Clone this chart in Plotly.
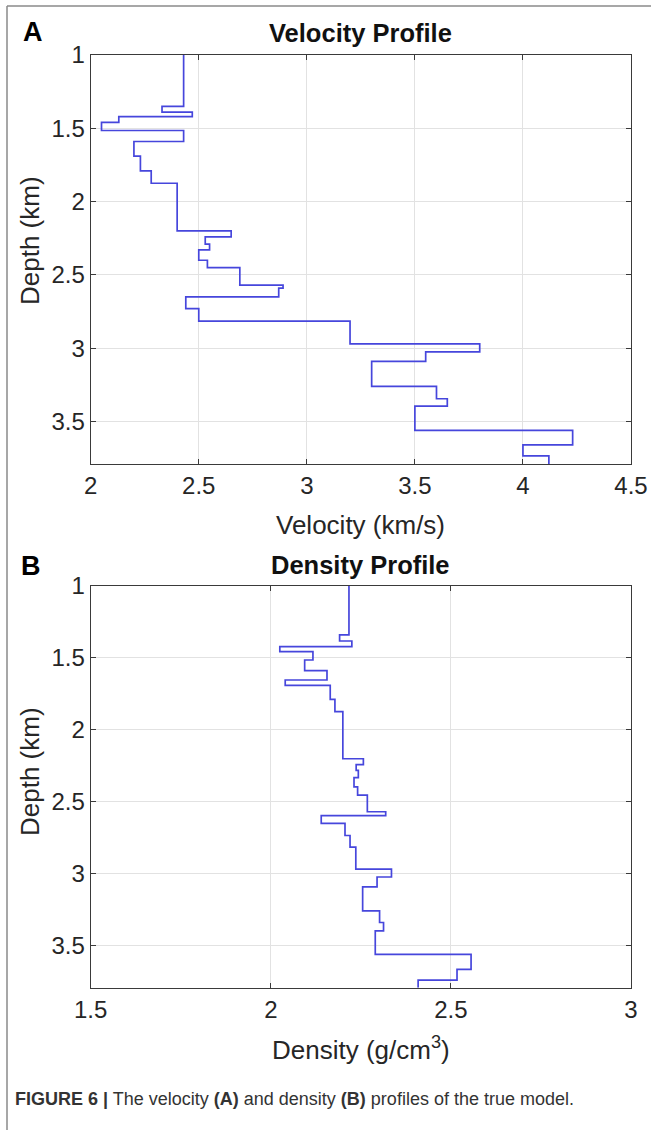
import plotly.graph_objects as go

W, H = 651, 1130

# ---------------- data ----------------
depth_max = 3.79

vel_tops = [1.0, 1.35, 1.39, 1.42, 1.46, 1.515, 1.59, 1.69, 1.79, 1.875,
            2.2, 2.24, 2.29, 2.33, 2.4, 2.45, 2.57, 2.59, 2.65, 2.73,
            2.815, 2.97, 3.025, 3.09, 3.26, 3.345, 3.395, 3.56, 3.66, 3.735]
vel_vals = [2.43, 2.33, 2.47, 2.13, 2.05, 2.43, 2.2, 2.23, 2.28, 2.4,
            2.65, 2.53, 2.55, 2.5, 2.54, 2.69, 2.89, 2.87, 2.44, 2.5,
            3.2, 3.8, 3.55, 3.3, 3.6, 3.65, 3.5, 4.23, 4.0, 4.12]

den_tops = [1.0, 1.34, 1.382, 1.421, 1.456, 1.514, 1.588, 1.653, 1.69, 1.787,
            1.873, 2.2, 2.241, 2.28, 2.331, 2.395, 2.453, 2.568, 2.595, 2.648,
            2.733, 2.814, 2.966, 3.021, 3.09, 3.257, 3.337, 3.395, 3.558, 3.663,
            3.737]
den_vals = [2.217, 2.191, 2.225, 2.025, 2.117, 2.094, 2.156, 2.040, 2.165, 2.178,
            2.2, 2.257, 2.237, 2.243, 2.231, 2.241, 2.268, 2.319, 2.140, 2.206,
            2.220, 2.236, 2.335, 2.295, 2.255, 2.302, 2.313, 2.290, 2.556, 2.517,
            2.409]

depth_ticks = [1, 1.5, 2, 2.5, 3, 3.5]
depth_ticktext = ["1", "1.5", "2", "2.5", "3", "3.5"]
vel_ticks = [2, 2.5, 3, 3.5, 4, 4.5]
vel_ticktext = ["2", "2.5", "3", "3.5", "4", "4.5"]
den_ticks = [1.5, 2, 2.5, 3]
den_ticktext = ["1.5", "2", "2.5", "3"]

# ---------------- helpers ----------------
def px_x(x):
    return x / W

def px_y(y):
    return 1 - y / H

FONT = "Liberation Sans, Arial, Helvetica, sans-serif"
LINE_COLOR = "#4646dc"
AX_COLOR = "#3a3a3a"

fig = go.Figure()

fig.add_trace(go.Scatter(
    x=vel_vals + [vel_vals[-1]], y=vel_tops + [depth_max],
    mode="lines", line=dict(color=LINE_COLOR, width=1.7, shape="vh"),
    xaxis="x", yaxis="y", showlegend=False, hoverinfo="skip"))

fig.add_trace(go.Scatter(
    x=den_vals + [den_vals[-1]], y=den_tops + [depth_max],
    mode="lines", line=dict(color=LINE_COLOR, width=1.7, shape="vh"),
    xaxis="x2", yaxis="y2", showlegend=False, hoverinfo="skip"))

ax_common = dict(
    showline=True, linecolor=AX_COLOR, linewidth=1, mirror="ticks",
    ticks="inside", ticklen=5, tickcolor=AX_COLOR, tickwidth=1,
    showgrid=True, gridcolor="#e2e2e2", gridwidth=1, zeroline=False,
    tickfont=dict(family=FONT, size=24, color="#262626"),
    automargin=False,
)

x_dom = [px_x(90.7), px_x(631)]
top_dom = [px_y(464), px_y(55)]
bot_dom = [px_y(987.7), px_y(586)]

fig.update_layout(
    width=W, height=H,
    margin=dict(l=0, r=0, t=0, b=0),
    paper_bgcolor="white", plot_bgcolor="white",
    xaxis=dict(ax_common, domain=x_dom, range=[2, 4.5], tickvals=vel_ticks,
               ticktext=vel_ticktext, anchor="y"),
    yaxis=dict(ax_common, domain=top_dom, range=[depth_max, 1], tickvals=depth_ticks,
               ticktext=depth_ticktext, anchor="x"),
    xaxis2=dict(ax_common, domain=x_dom, range=[1.5, 3], tickvals=den_ticks,
                ticktext=den_ticktext, anchor="y2"),
    yaxis2=dict(ax_common, domain=bot_dom, range=[depth_max, 1], tickvals=depth_ticks,
                ticktext=depth_ticktext, anchor="x2"),
)

def ann(text, x, y, size, bold=False, color="#262626", angle=0, xanchor="center"):
    fig.add_annotation(
        text=f"<b>{text}</b>" if bold else text,
        x=px_x(x), y=px_y(y), xref="paper", yref="paper",
        showarrow=False, xanchor=xanchor, yanchor="middle", textangle=angle,
        font=dict(family=FONT, size=size, color=color))

cx = (90.7 + 631) / 2
ann("Velocity Profile", cx, 33, 25.5, bold=True, color="#111")
ann("Density Profile", cx, 565, 25.5, bold=True, color="#111")
ann("A", 33, 32, 27, bold=True, color="#000")
ann("B", 31, 566, 27, bold=True, color="#000")
ann("Velocity (km/s)", cx, 525, 26)
ann("Density (g/cm<sup>3</sup>)", cx, 1048, 26)
ann("Depth (km)", 30, 241, 26, angle=-90)
ann("Depth (km)", 30, 772, 26, angle=-90)
ann("<b>FIGURE 6 |</b> The velocity <b>(A)</b> and density <b>(B)</b> profiles of the true model.",
    13, 1099, 18, color="#333", xanchor="left")

# figure frame (top and left edges)
fig.add_shape(type="line", xref="paper", yref="paper",
              x0=px_x(7), x1=1.0, y0=px_y(6), y1=px_y(6),
              line=dict(color="#8a8a8a", width=1.5))
fig.add_shape(type="line", xref="paper", yref="paper",
              x0=px_x(7), x1=px_x(7), y0=px_y(6), y1=0,
              line=dict(color="#8a8a8a", width=1.5))

fig.write_html(
    "out.html",
    config={"displayModeBar": False},
    post_script="document.body.style.margin='0';document.body.style.padding='0';"
                "document.body.style.overflow='hidden';"
                "document.documentElement.style.overflow='hidden';",
)
